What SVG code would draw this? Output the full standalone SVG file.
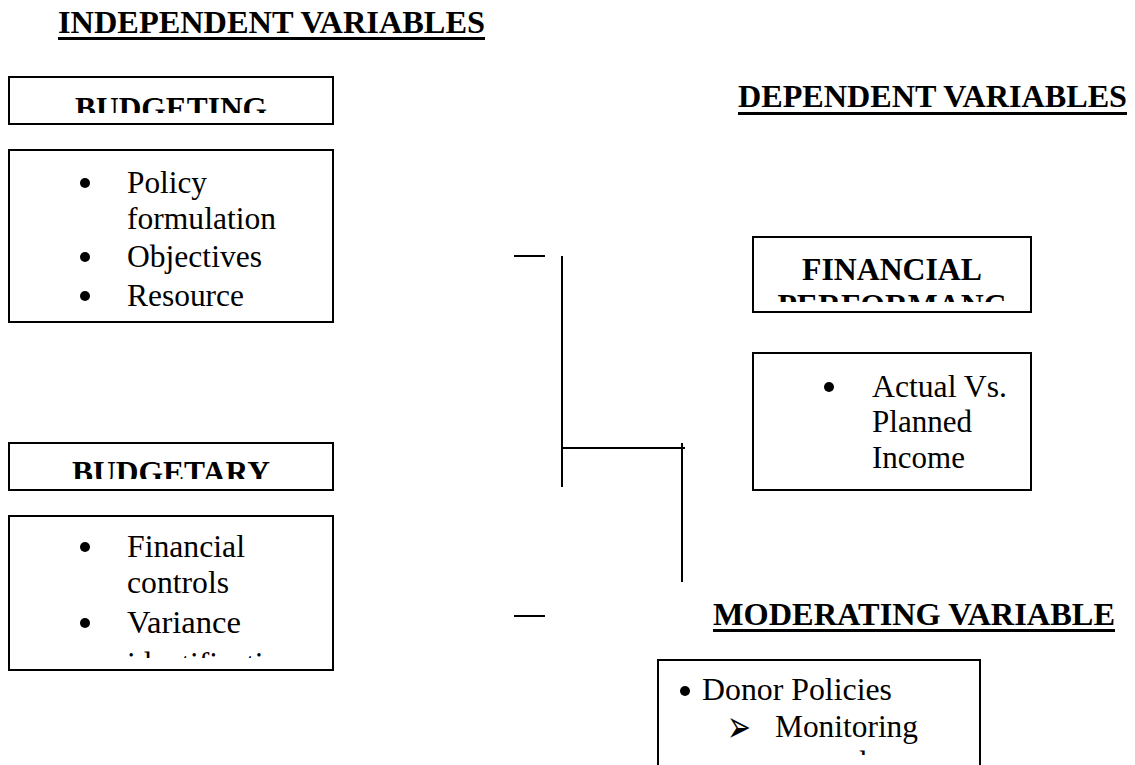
<svg xmlns="http://www.w3.org/2000/svg" width="1135" height="765" viewBox="0 0 1135 765">
  <style>
    .box { fill: #fff; stroke: #000; stroke-width: 2; }
    .head { font-family: "Liberation Serif", "Times New Roman", serif; font-weight: bold; font-size: 31px; fill: #000; }
    .title { font-family: "Liberation Serif", "Times New Roman", serif; font-weight: bold; font-size: 31px; fill: #000; text-anchor: middle; }
    .body { font-family: "Liberation Serif", "Times New Roman", serif; font-size: 31px; fill: #000; }
    .arrowbullet { font-family: "DejaVu Sans", sans-serif; font-size: 30px; fill: #000; }
    .rule { fill: #000; }
    .conn { stroke: #000; stroke-width: 2; fill: none; }
  </style>
  <defs>
    <clipPath id="clip-budgeting"><rect x="10" y="78" width="322" height="35"/></clipPath>
    <clipPath id="clip-budgetary"><rect x="10" y="444" width="322" height="35"/></clipPath>
    <clipPath id="clip-performance"><rect x="754" y="238" width="276" height="64"/></clipPath>
    <clipPath id="clip-controls"><rect x="10" y="517" width="322" height="141"/></clipPath>
    <clipPath id="clip-donor"><rect x="659" y="661" width="320" height="94"/></clipPath>
  </defs>
  <rect width="1135" height="765" fill="#fff"/>

  <!-- section headings -->
  <g id="heading-independent">
    <text class="head" x="58" y="33" textLength="427" lengthAdjust="spacingAndGlyphs">INDEPENDENT VARIABLES</text>
    <rect class="rule" x="58" y="37" width="427" height="3"/>
  </g>
  <g id="heading-dependent">
    <text class="head" x="738" y="107" textLength="389" lengthAdjust="spacingAndGlyphs">DEPENDENT VARIABLES</text>
    <rect class="rule" x="738" y="112" width="389" height="3"/>
  </g>
  <g id="heading-moderating">
    <text class="head" x="713" y="625" textLength="402" lengthAdjust="spacingAndGlyphs">MODERATING VARIABLE</text>
    <rect class="rule" x="713" y="629" width="402" height="3"/>
  </g>

  <!-- independent variable: budgeting -->
  <g id="budgeting-title">
    <rect class="box" x="9" y="77" width="324" height="47"/>
    <text class="title" x="171" y="118.5" textLength="192" lengthAdjust="spacingAndGlyphs" clip-path="url(#clip-budgeting)">BUDGETING</text>
  </g>
  <g id="budgeting-items">
    <rect class="box" x="9" y="150" width="324" height="172"/>
    <circle cx="85" cy="183" r="5"/>
    <text class="body" x="127" y="193" textLength="80" lengthAdjust="spacingAndGlyphs">Policy</text>
    <text class="body" x="127" y="229" textLength="149" lengthAdjust="spacingAndGlyphs">formulation</text>
    <circle cx="85" cy="257" r="5"/>
    <text class="body" x="127" y="267" textLength="135" lengthAdjust="spacingAndGlyphs">Objectives</text>
    <circle cx="85" cy="296" r="5"/>
    <text class="body" x="127" y="306" textLength="117" lengthAdjust="spacingAndGlyphs">Resource</text>
  </g>

  <!-- independent variable: budgetary control -->
  <g id="budgetary-title">
    <rect class="box" x="9" y="443" width="324" height="47"/>
    <text class="title" x="171" y="482.5" textLength="198" lengthAdjust="spacingAndGlyphs" clip-path="url(#clip-budgetary)">BUDGETARY</text>
  </g>
  <g id="budgetary-items">
    <rect class="box" x="9" y="516" width="324" height="154"/>
    <g clip-path="url(#clip-controls)">
      <circle cx="85" cy="547" r="5"/>
      <text class="body" x="127" y="557" textLength="118" lengthAdjust="spacingAndGlyphs">Financial</text>
      <text class="body" x="127" y="593" textLength="102" lengthAdjust="spacingAndGlyphs">controls</text>
      <circle cx="85" cy="623" r="5"/>
      <text class="body" x="127" y="633" textLength="114" lengthAdjust="spacingAndGlyphs">Variance</text>
      <text class="body" x="127" y="674" textLength="168" lengthAdjust="spacingAndGlyphs">identification</text>
    </g>
  </g>

  <!-- dependent variable -->
  <g id="financial-title">
    <rect class="box" x="753" y="237" width="278" height="75"/>
    <g clip-path="url(#clip-performance)">
      <text class="title" x="892" y="280" textLength="180" lengthAdjust="spacingAndGlyphs">FINANCIAL</text>
      <text class="title" x="892" y="315.5" textLength="229" lengthAdjust="spacingAndGlyphs">PERFORMANC</text>
    </g>
  </g>
  <g id="financial-items">
    <rect class="box" x="753" y="353" width="278" height="137"/>
    <circle cx="829" cy="387" r="5"/>
    <text class="body" x="872" y="397" textLength="135" lengthAdjust="spacingAndGlyphs">Actual Vs.</text>
    <text class="body" x="872" y="432" textLength="100" lengthAdjust="spacingAndGlyphs">Planned</text>
    <text class="body" x="872" y="468" textLength="93" lengthAdjust="spacingAndGlyphs">Income</text>
  </g>

  <!-- moderating variable -->
  <g id="donor-items">
    <rect class="box" x="658" y="660" width="322" height="130"/>
    <g clip-path="url(#clip-donor)">
      <circle cx="685" cy="691" r="5"/>
      <text class="body" x="702" y="700" textLength="190" lengthAdjust="spacingAndGlyphs">Donor Policies</text>
      <!-- arrowhead sub-bullet, stretched upward to the height of the list text -->
      <text class="arrowbullet" transform="translate(727 742) scale(0.95 1.5)">➢</text>
      <text class="body" x="775" y="737" textLength="143" lengthAdjust="spacingAndGlyphs">Monitoring</text>
      <text class="body" x="822" y="773">and</text>
    </g>
  </g>

  <!-- connectors -->
  <g id="connectors">
    <line class="conn" x1="514" y1="256" x2="545" y2="256"/>
    <line class="conn" x1="562" y1="256" x2="562" y2="487"/>
    <line class="conn" x1="562" y1="448" x2="685" y2="448"/>
    <line class="conn" x1="682" y1="443" x2="682" y2="582"/>
    <line class="conn" x1="514" y1="616" x2="545" y2="616"/>
  </g>
</svg>
